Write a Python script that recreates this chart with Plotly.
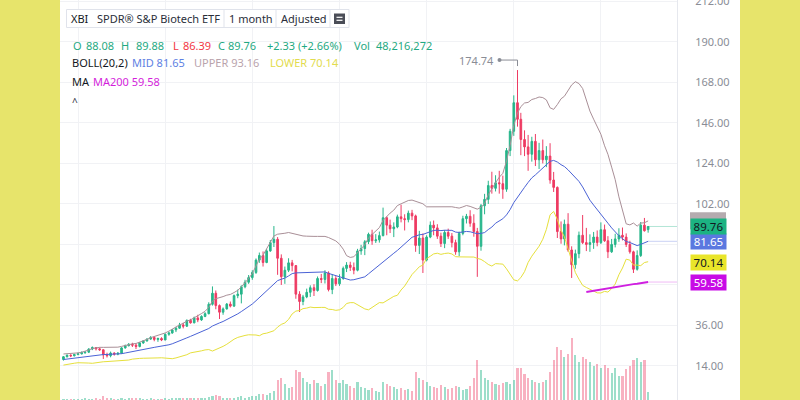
import pandas as pd
import plotly.graph_objects as go

# ---------------- data (monthly, adjusted) ----------------
start_month = "2010-09-01"
n_months = 162
dates = pd.date_range(start_month, periods=n_months, freq="MS")

# closes before the visible window (Feb 2009 - Aug 2010), used only to warm up BOLL(20,2)
pre_closes = [14.5, 15.2, 16.0, 15.8, 16.8, 17.6, 17.8, 17.2, 16.0, 17.0, 18.2,
              18.6, 19.0, 20.2, 20.5, 18.2, 17.2, 17.6, 17.4]

opens = [17.5, 19.0, 19.8, 19.5,
         20.2, 20.6, 21.2, 21.5, 23.2, 24.0, 23.3, 22.8, 20.0, 19.6, 21.0, 20.4,
         20.9, 23.8, 25.0, 25.8, 25.3, 24.6, 26.5, 27.6, 28.6, 29.5, 28.4, 28.9,
         28.1, 31.2, 31.9, 33.6, 34.5, 36.3, 35.6, 38.8, 37.4, 40.1, 39.0, 40.9,
         42.4, 47.5, 53.5, 46.8, 43.2, 45.0, 47.6, 46.5, 52.2, 53.0, 57.0, 59.5,
         62.0, 64.8, 71.5, 74.0, 70.2, 76.5, 81.0, 82.8, 72.5, 62.5, 66.0, 70.0,
         68.5, 53.0, 49.0, 51.5, 54.0, 56.5, 55.0, 61.5, 61.0, 64.5, 55.5, 61.5,
         58.6, 61.5, 67.0, 68.8, 67.5, 66.0, 76.5, 77.8, 81.5, 85.5, 82.0, 82.5,
         84.8, 94.5, 90.5, 88.5, 89.5, 95.0, 94.0, 93.5, 97.0, 95.5, 79.5, 83.5,
         71.5, 84.0, 90.5, 89.0, 84.5, 80.5, 86.5, 84.5, 81.0, 76.0, 86.0, 94.0,
         95.3, 91.5, 87.0, 79.0, 101.0, 104.5, 112.0, 110.5, 113.5, 113.0, 110.0, 131.0,
         141.5, 157.0, 148.0, 137.0, 133.0, 129.0, 136.0, 126.0, 131.0, 126.0, 128.0, 115.0,
         111.0, 87.0, 83.0, 91.0, 77.0, 69.0, 75.0, 85.0, 81.0, 80.0, 81.0, 84.0,
         81.0, 88.0, 82.0, 76.0, 80.0, 83.0, 85.0, 84.0, 80.0, 76.0, 66.5, 74.0,
         90.5, 88.08]

highs = [19.4, 20.3, 20.4, 20.6,
         21.3, 21.9, 22.0, 23.6, 24.6, 24.3, 24.0, 23.0, 21.2, 21.8, 21.4, 21.5,
         24.2, 25.6, 26.4, 26.6, 26.2, 26.9, 28.0, 29.0, 30.2, 30.0, 29.4, 29.6,
         31.6, 32.6, 34.0, 35.2, 37.4, 37.5, 39.2, 39.6, 40.8, 41.8, 41.5, 43.2,
         48.6, 57.2, 55.0, 47.4, 45.8, 48.2, 49.0, 52.8, 55.5, 57.8, 60.8, 63.4,
         66.0, 72.4, 75.6, 76.2, 77.6, 82.4, 90.0, 84.0, 74.6, 68.0, 72.5, 71.6,
         68.8, 54.6, 52.6, 56.0, 57.8, 58.4, 62.6, 64.0, 66.0, 65.4, 63.8, 62.8,
         63.8, 68.0, 70.4, 70.6, 70.2, 77.6, 79.8, 82.4, 86.4, 88.0, 85.6, 87.0,
         100.0, 95.2, 93.5, 92.0, 96.2, 101.6, 96.4, 98.4, 98.8, 96.2, 87.4, 86.0,
         85.0, 92.5, 93.0, 91.0, 86.4, 87.8, 88.6, 86.2, 82.6, 87.0, 95.6, 96.6,
         98.6, 96.4, 89.0, 102.0, 107.5, 114.6, 119.5, 117.6, 120.0, 117.4, 132.4, 142.8,
         161.0, 174.74, 151.5, 142.0, 139.5, 138.5, 140.0, 135.2, 137.0, 133.4, 135.0, 119.4,
         111.5, 92.5, 93.5, 97.0, 79.0, 77.2, 87.0, 96.0, 89.0, 85.5, 86.8, 87.6,
         92.0, 90.8, 84.5, 83.0, 85.8, 88.8, 89.2, 86.0, 82.0, 76.6, 76.8, 92.2,
         94.4, 89.88]

lows = [16.9, 18.6, 18.8, 19.2,
        19.8, 20.2, 20.6, 21.0, 22.6, 22.4, 22.2, 17.8, 18.6, 18.7, 19.6, 19.8,
        20.7, 23.4, 24.6, 24.3, 23.2, 24.1, 26.0, 27.2, 28.2, 27.4, 27.1, 27.5,
        28.0, 30.4, 31.5, 32.4, 34.2, 34.4, 35.2, 37.0, 37.2, 37.8, 38.5, 40.5,
        42.0, 46.8, 44.8, 39.5, 41.8, 44.6, 45.8, 46.0, 50.8, 48.0, 56.2, 58.6,
        60.8, 64.0, 70.0, 68.0, 69.8, 76.0, 78.6, 63.5, 58.0, 58.6, 65.0, 65.4,
        50.5, 43.3, 47.0, 50.8, 51.5, 52.0, 54.4, 59.0, 58.8, 54.5, 53.0, 57.4,
        57.5, 60.8, 65.0, 65.6, 63.8, 65.4, 74.4, 74.2, 80.2, 79.8, 80.8, 81.0,
        84.4, 85.0, 86.2, 84.0, 88.8, 92.0, 87.6, 92.0, 93.2, 76.0, 74.8, 64.5,
        70.8, 83.4, 85.0, 83.0, 78.6, 78.0, 83.0, 78.4, 74.4, 73.6, 85.0, 91.4,
        89.6, 84.2, 62.4, 76.6, 96.4, 102.0, 107.6, 108.8, 107.6, 104.8, 108.6, 128.0,
        139.0, 144.0, 128.5, 128.0, 120.0, 125.0, 122.6, 121.0, 124.0, 122.0, 113.0, 108.5,
        83.5, 80.4, 79.5, 76.0, 61.8, 66.8, 72.5, 80.2, 76.4, 76.0, 77.6, 79.0,
        80.2, 81.4, 72.6, 75.4, 78.4, 81.4, 82.2, 78.6, 75.0, 64.5, 65.8, 73.2,
        87.0, 86.39]

closes = [19.0, 19.8, 19.5, 20.2,
          20.6, 21.2, 21.5, 23.2, 24.0, 23.3, 22.8, 20.0, 19.6, 21.0, 20.4, 20.9,
          23.8, 25.0, 25.8, 25.3, 24.6, 26.5, 27.6, 28.6, 29.5, 28.4, 28.9, 28.1,
          31.2, 31.9, 33.6, 34.5, 36.3, 35.6, 38.8, 37.4, 40.1, 39.0, 40.9, 42.4,
          47.5, 53.5, 46.8, 43.2, 45.0, 47.6, 46.5, 52.2, 53.0, 57.0, 59.5, 62.0,
          64.8, 71.5, 74.0, 70.2, 76.5, 81.0, 82.8, 72.5, 62.5, 66.0, 70.0, 68.5,
          53.0, 49.0, 51.5, 54.0, 56.5, 55.0, 61.5, 61.0, 64.5, 55.5, 61.5, 58.6,
          61.5, 67.0, 68.8, 67.5, 66.0, 76.5, 77.8, 81.5, 85.5, 82.0, 82.5, 84.8,
          94.5, 90.5, 88.5, 89.5, 95.0, 94.0, 93.5, 97.0, 95.5, 79.5, 83.5, 71.5,
          84.0, 90.5, 89.0, 84.5, 80.5, 86.5, 84.5, 81.0, 76.0, 86.0, 94.0, 95.3,
          91.5, 87.0, 79.0, 101.0, 104.5, 112.0, 110.5, 113.5, 113.0, 110.0, 131.0, 141.5,
          157.0, 148.0, 137.0, 133.0, 129.0, 136.0, 126.0, 131.0, 126.0, 128.0, 115.0, 111.0,
          87.0, 83.0, 91.0, 77.0, 69.0, 75.0, 85.0, 81.0, 80.0, 81.0, 84.0, 81.0,
          88.0, 82.0, 76.0, 80.0, 83.0, 85.0, 84.0, 80.0, 76.0, 66.5, 74.0, 90.5,
          87.43, 89.76]

# monthly volume, millions of shares
volumes = [15, 14, 16, 15,
           16, 17, 18, 16, 15, 18, 17, 28, 22, 18, 16, 15,
           18, 17, 19, 18, 20, 18, 17, 16, 18, 17, 16, 15,
           18, 17, 19, 22, 20, 22, 20, 18, 20, 22, 18, 20,
           25, 30, 35, 30, 22, 20, 20, 22, 25, 28, 22, 24,
           30, 28, 38, 40, 35, 45, 55, 110, 120, 90, 70, 75,
           160, 150, 120, 100, 90, 110, 95, 80, 90, 150, 160, 110,
           95, 110, 90, 80, 70, 100, 75, 70, 60, 70, 55, 50,
           100, 90, 80, 75, 65, 70, 60, 65, 55, 150, 120, 110,
           100, 80, 75, 70, 85, 75, 65, 70, 80, 75, 60, 65,
           80, 120, 210, 160, 120, 110, 100, 90, 85, 95, 100, 90,
           110, 170, 170, 140, 120, 110, 100, 95, 100, 110, 150, 210,
           275, 260, 225, 240, 320, 235, 200, 225, 215, 200, 180, 190,
           170, 185, 170, 145, 170, 130, 130, 165, 180, 210, 220, 200,
           210, 48.216272]

# MA200 values (Sep 2022 - Feb 2024)
ma200 = [54.2, 54.55, 54.85, 55.2, 55.5, 55.9, 56.2, 56.5, 56.85,
         57.2, 57.5, 57.85, 58.15, 58.45, 58.7, 59.0, 59.35, 59.58]

# price scale: grid every 22, labels hidden where the value tags cover them
price_grid = [14, 36, 58, 80, 102, 124, 146, 168, 190, 212]
price_labels = [14, 36, 102, 124, 146, 168, 190, 212]

# ---------------- styling ----------------
GREEN = "#26B58A"
RED = "#EE3B63"
TXT_GREEN = "#1FA982"
TXT_RED = "#F23645"
UP_C = "#A98F97"
MID_C = "#4B63D6"
LOW_C = "#E6E03C"
MA_C = "#CF1FE0"
YELLOW = "#E7E46B"
GRID = "#F1F2F5"
FONT = "Noto Sans"
FS = 11

W, H = 800, 400
ML, MR = 60, 123
PW = W - ML - MR


def px(x):
    return (x - ML) / PW


def py(y):
    return 1 - y / H


s = pd.Series(pre_closes + closes)
mid = s.rolling(20).mean().iloc[-n_months:].values
sd = s.rolling(20).std(ddof=0).iloc[-n_months:].values
upper = mid + 2 * sd
lower = mid - 2 * sd

fig = go.Figure()

vol_colors = ["rgba(38,181,138,0.45)" if c >= o else "rgba(238,59,99,0.40)"
              for o, c in zip(opens, closes)]
fig.add_trace(go.Bar(x=dates, y=volumes, marker_color=vol_colors, marker_line_width=0,
                     width=18 * 86400000, yaxis="y2", hoverinfo="skip"))

fig.add_trace(go.Candlestick(
    x=dates, open=opens, high=highs, low=lows, close=closes,
    increasing=dict(line=dict(color=GREEN, width=1), fillcolor=GREEN),
    decreasing=dict(line=dict(color=RED, width=1), fillcolor=RED),
    whiskerwidth=0, hoverinfo="skip"))

fig.add_trace(go.Scatter(x=dates, y=upper, mode="lines", line=dict(color=UP_C, width=1)))
fig.add_trace(go.Scatter(x=dates, y=mid, mode="lines", line=dict(color=MID_C, width=1)))
fig.add_trace(go.Scatter(x=dates, y=lower, mode="lines", line=dict(color=LOW_C, width=1)))
fig.add_trace(go.Scatter(x=dates[-len(ma200):], y=ma200, mode="lines",
                         line=dict(color=MA_C, width=2)))

x_end = "2024-09-30"
shapes = []
# price lines from the last bar to the price scale
for val, col in [(closes[-1], "rgba(38,181,138,0.35)"), (mid[-1], "rgba(75,99,214,0.3)"),
                 (ma200[-1], "rgba(207,31,224,0.3)")]:
    shapes.append(dict(type="line", xref="x", yref="y", x0=dates[-1], x1=x_end,
                       y0=val, y1=val, line=dict(color=col, width=1)))

# high marker (174.74)
i_max = max(range(n_months), key=lambda i: highs[i])
pk_x, pk_y = dates[i_max], highs[i_max]
shapes.append(dict(type="line", xref="x", yref="y", xsizemode="pixel", ysizemode="pixel",
                   xanchor=pk_x, yanchor=pk_y, x0=-18, x1=0, y0=10, y1=10,
                   line=dict(color="#8A8D96", width=1)))
shapes.append(dict(type="line", xref="x", yref="y", xsizemode="pixel", ysizemode="pixel",
                   xanchor=pk_x, yanchor=pk_y, x0=0, x1=0, y0=10, y1=4,
                   line=dict(color="#8A8D96", width=1)))
shapes.append(dict(type="circle", xref="x", yref="y", xsizemode="pixel", ysizemode="pixel",
                   xanchor=pk_x, yanchor=pk_y, x0=-20, x1=-16, y0=8, y1=12,
                   fillcolor="#8A8D96", line=dict(width=0)))

# toolbar box
shapes.append(dict(type="rect", xref="paper", yref="paper", x0=px(66.5), x1=px(349),
                   y0=py(27.5), y1=py(9.5), line=dict(color="#E0E3EB", width=1),
                   fillcolor="white"))
for sx in [224, 276, 330]:
    shapes.append(dict(type="line", xref="paper", yref="paper", x0=px(sx), x1=px(sx),
                       y0=py(27.5), y1=py(9.5), line=dict(color="#E0E3EB", width=1)))
shapes.append(dict(type="rect", xref="paper", yref="paper", x0=px(334), x1=px(345),
                   y0=py(24), y1=py(13.5), fillcolor="#4A4D57", line=dict(width=0)))
for ly in [17.3, 20.3]:
    shapes.append(dict(type="line", xref="paper", yref="paper", x0=px(336.5), x1=px(342.5),
                       y0=py(ly), y1=py(ly), line=dict(color="white", width=1.2)))

# grey UPPER tag, mostly covered by the last-price tag
shapes.append(dict(type="rect", xref="paper", yref="y", ysizemode="pixel", yanchor=93.16,
                   x0=px(690), x1=px(726), y0=-9, y1=8, fillcolor="#B5ABAF",
                   line=dict(width=0), layer="above"))

# yellow side frames
shapes.append(dict(type="rect", xref="paper", yref="paper", x0=px(0), x1=px(60),
                   y0=0, y1=1, fillcolor=YELLOW, line=dict(width=0), layer="above"))
shapes.append(dict(type="rect", xref="paper", yref="paper", x0=px(740), x1=px(800),
                   y0=0, y1=1, fillcolor=YELLOW, line=dict(width=0), layer="above"))

ann = []


def label(x, y, text, color, size=FS):
    ann.append(dict(xref="paper", yref="paper", x=px(x - 1.5), y=py(y), text=text,
                    showarrow=False, xanchor="left", yanchor="middle",
                    font=dict(family=FONT, size=size, color=color)))


DARK = "#131722"
label(70, 18.5, "XBI", DARK)
label(96, 18.5, "SPDR® S&P Biotech ETF", "#2A2E39")
label(228, 18.5, "1 month", "#2A2E39")
label(280, 18.5, "Adjusted", "#2A2E39")

label(72, 45, "O", TXT_GREEN)
label(85, 45, f"{opens[-1]:.2f}", TXT_GREEN)
label(120, 45, "H", TXT_GREEN)
label(135, 45, f"{highs[-1]:.2f}", TXT_GREEN)
label(172, 45, "L", TXT_RED)
label(182, 45, f"{lows[-1]:.2f}", TXT_RED)
label(217, 45, "C", TXT_GREEN)
label(227, 45, f"{closes[-1]:.2f}", TXT_GREEN)
label(266, 45, "+2.33 (+2.66%)", TXT_GREEN)
label(353, 45, "Vol", TXT_GREEN)
label(375, 45, "48,216,272", TXT_GREEN)

label(71, 63, "BOLL(20,2)", DARK)
label(131, 63, "MID 81.65", "#5E7FE3")
label(193, 63, "UPPER 93.16", "#B9A3AC")
label(269, 63, "LOWER 70.14", "#E2DC4E")

label(71, 81, "MA", DARK)
label(92, 81, "MA200 59.58", "#D41FDB")
label(71, 102, "^", "#2A2E39", 10)

ann.append(dict(xref="x", yref="y", x=pk_x, y=pk_y, xshift=-22, yshift=10,
                text=f"{pk_y:.2f}", showarrow=False, xanchor="right", yanchor="middle",
                font=dict(family=FONT, size=FS, color="#8A8D96")))

# price-scale value tags
for val, bg, fg in [(81.65, "#5B78E0", "white"), (closes[-1], "#1CB382", DARK),
                    (70.14, "#E9E52A", DARK), (ma200[-1], "#C80BE6", "white")]:
    ann.append(dict(xref="paper", yref="y", x=px(690), y=val, text=f"{val:.2f}",
                    showarrow=False, xanchor="left", yanchor="middle",
                    bgcolor=bg, width=34, height=14, borderpad=0.5,
                    font=dict(family=FONT, size=11.5, color=fg)))

fig.update_layout(
    width=W, height=H, margin=dict(l=ML, r=MR, t=0, b=0, autoexpand=False),
    paper_bgcolor="white", plot_bgcolor="white", showlegend=False,
    hovermode=False, shapes=shapes, annotations=ann, bargap=0,
    xaxis=dict(type="date", range=["2010-08-03", x_end], showticklabels=False,
               showgrid=True, gridcolor=GRID, gridwidth=1, dtick="M24",
               tick0="2011-01-01", zeroline=False, rangeslider=dict(visible=False),
               showline=False, fixedrange=True, automargin=False),
    yaxis=dict(side="right", range=[-4.5, 212.8], tickmode="array",
               tickvals=price_labels, ticktext=[f"{v:.2f}" for v in price_labels],
               showgrid=True, gridcolor=GRID, zeroline=False, showline=True,
               linecolor="#E6E8EE", automargin=False, ticklabeloverflow="allow",
               tickfont=dict(family=FONT, size=FS, color="#8A8D96"),
               ticks="", ticklabelstandoff=15,
               minor=dict(tickmode="array", tickvals=price_grid, showgrid=True,
                          gridcolor=GRID, ticks="")),
    yaxis2=dict(overlaying="y", range=[10, 2010], visible=False, showgrid=False),
)

fig.write_html("out.html", config={"displayModeBar": False, "staticPlot": True},
               post_script="document.body.style.margin='0';document.body.style.overflow='hidden';")
